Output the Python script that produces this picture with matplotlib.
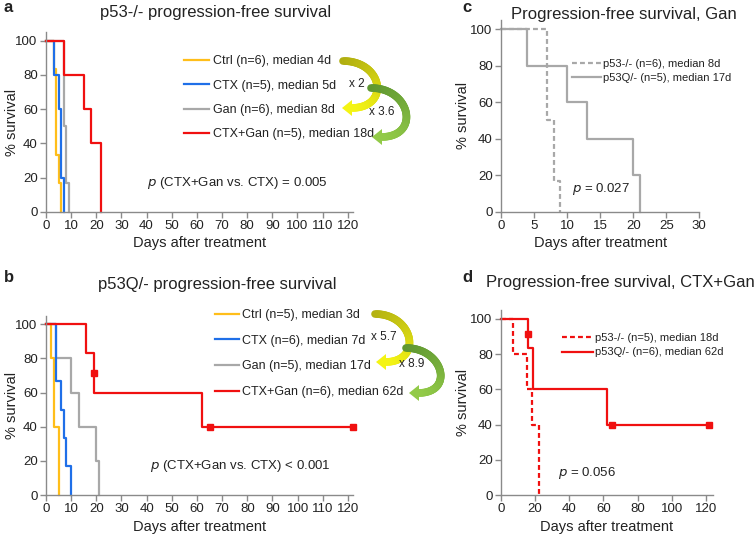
import numpy as np
import matplotlib
matplotlib.use('Agg')
from matplotlib import pyplot as plt
from matplotlib.patches import Polygon
from matplotlib.collections import LineCollection
from matplotlib.colors import to_rgb

plt.rcParams['font.family'] = ['Liberation Sans', 'DejaVu Sans']

W, H = 755, 537

# panel a: p53-/-  (time in days, % survival)
a_ctrl_t = [0, 3, 4, 5, 6]
a_ctrl_s = [100, 83.3, 33.3, 16.7, 0]
a_ctx_t = [0, 3, 5, 6, 7]
a_ctx_s = [100, 80, 60, 20, 0]
a_gan_t = [0, 7, 8, 9]
a_gan_s = [100, 50, 16.7, 0]
a_comb_t = [0, 7, 15, 18, 22]
a_comb_s = [100, 80, 60, 40, 0]

# panel b: p53Q/-
b_ctrl_t = [0, 2, 3, 5]
b_ctrl_s = [100, 80, 40, 0]
b_ctx_t = [0, 4, 6, 7, 8, 10]
b_ctx_s = [100, 66.7, 50, 33.3, 16.7, 0]
b_gan_t = [0, 4, 10, 13, 20, 21]
b_gan_s = [100, 80, 60, 40, 20, 0]
b_comb_t = [0, 16, 19, 62, 122]
b_comb_s = [100, 83.3, 60, 40, 40]
b_cens_t = [19, 65, 122]
b_cens_s = [71.4, 40, 40]

# panel d censor marks of p53Q/- CTX+Gan
d_cens_t = [16, 65, 122]
d_cens_s = [91.7, 40, 40]

labels_a = ['Ctrl (n=6), median 4d', 'CTX (n=5), median 5d',
            'Gan (n=6), median 8d', 'CTX+Gan (n=5), median 18d']
labels_b = ['Ctrl (n=5), median 3d', 'CTX (n=6), median 7d',
            'Gan (n=5), median 17d', 'CTX+Gan (n=6), median 62d']
labels_c = ['p53-/- (n=6), median 8d', 'p53Q/- (n=5), median 17d']
labels_d = ['p53-/- (n=5), median 18d', 'p53Q/- (n=6), median 62d']

ORANGE = '#FFBE1A'
BLUE = '#1F6FE8'
GRAY = '#A8A8A8'
RED = '#F01010'
TXT = '#222222'


def fx(px):
    return px / W


def fy(py):
    return 1 - py / H


def axes_px(fig, left, top, right, bottom):
    return fig.add_axes([fx(left), fy(bottom), (right - left) / W, (bottom - top) / H])


def style(ax, xmax, xstep, ylab_x, fig):
    ax.set_xlim(0, xmax)
    ax.set_ylim(0, 105)
    ax.set_xticks(np.arange(0, xmax + 0.01 - (xmax % xstep), xstep))
    ax.set_yticks(np.arange(0, 101, 20))
    for s in ['top', 'right']:
        ax.spines[s].set_visible(False)
    for s in ['left', 'bottom']:
        ax.spines[s].set_color('#8a8a8a')
        ax.spines[s].set_linewidth(1.0)
    ax.tick_params(direction='out', length=4, width=1, color='#8a8a8a',
                   labelcolor=TXT, labelsize=9.5, pad=2)
    ax.set_ylabel('% survival', fontsize=10.5, color=TXT, va='center')
    pos = ax.get_position()
    ax.yaxis.set_label_coords(fx(ylab_x), pos.y0 + pos.height / 2, transform=fig.transFigure)
    ax.set_xlabel('Days after treatment', fontsize=10.5, color=TXT, labelpad=3)


def km(ax, t, s, color, ls='-', label=None):
    ax.step(t, s, where='post', color=color, lw=1.6, ls=ls, label=label, clip_on=False)


def loop_arrow(fig, p1, p2, bulge, c_tail, c_head, hl=9, hw=8, band=5.5):
    # band leaves p1 to the right, loops round and comes back leftwards into p2
    d = bulge / 0.75
    e = (p2[0] + hl, p2[1])
    P = np.array([p1, (p1[0] + d, p1[1]), (e[0] + d, e[1]), e], dtype=float)
    t = np.linspace(0, 1, 60)[:, None]
    pts = ((1 - t) ** 3 * P[0] + 3 * (1 - t) ** 2 * t * P[1]
           + 3 * (1 - t) * t ** 2 * P[2] + t ** 3 * P[3])
    pts = np.column_stack([fx(pts[:, 0]), fy(pts[:, 1])])
    segs = np.stack([pts[:-1], pts[1:]], axis=1)
    c0, c1 = np.array(to_rgb(c_tail)), np.array(to_rgb(c_head))
    k = np.linspace(0, 1, len(segs))[:, None]
    cols = c0 * (1 - k) + c1 * k
    lc = LineCollection(segs, colors=cols, linewidths=band, capstyle='round',
                        transform=fig.transFigure)
    fig.add_artist(lc)
    head = Polygon([(fx(p2[0]), fy(p2[1])), (fx(e[0] + 1), fy(e[1] - hw)),
                    (fx(e[0] + 1), fy(e[1] + hw))], closed=True, color=c_head, lw=0,
                   transform=fig.transFigure)
    fig.add_artist(head)


def main():
    fig = plt.figure(figsize=(W / 100, H / 100), dpi=100)

    # ---- a
    ax = axes_px(fig, 46, 32.2, 352.7, 211.7)
    style(ax, 122, 10, 12, fig)
    km(ax, a_gan_t, a_gan_s, GRAY, label=labels_a[2])
    km(ax, a_ctrl_t, a_ctrl_s, ORANGE, label=labels_a[0])
    km(ax, a_ctx_t, a_ctx_s, BLUE, label=labels_a[1])
    km(ax, a_comb_t, a_comb_s, RED, label=labels_a[3])
    h, l = ax.get_legend_handles_labels()
    order = [1, 2, 0, 3]
    ax.legend([h[i] for i in order], [l[i] for i in order], loc='upper left',
              bbox_to_anchor=(fx(184), fy(55)), bbox_transform=fig.transFigure,
              frameon=False, fontsize=9, labelspacing=1.0, handlelength=2.0,
              handletextpad=0.3, borderpad=0, borderaxespad=0, labelcolor=TXT)
    ax.text(0.33, 0.16, r'$\it{p}$ (CTX+Gan vs. CTX) = 0.005', transform=ax.transAxes,
            fontsize=9.5, color=TXT, va='center')

    # ---- b
    ax = axes_px(fig, 46, 315.8, 353, 495)
    style(ax, 122, 10, 12, fig)
    km(ax, b_gan_t, b_gan_s, GRAY, label=labels_b[2])
    km(ax, b_ctrl_t, b_ctrl_s, ORANGE, label=labels_b[0])
    km(ax, b_ctx_t, b_ctx_s, BLUE, label=labels_b[1])
    km(ax, b_comb_t, b_comb_s, RED, label=labels_b[3])
    ax.plot(b_cens_t, b_cens_s, 's', color=RED, ms=4, clip_on=False)
    h, l = ax.get_legend_handles_labels()
    ax.legend([h[i] for i in order], [l[i] for i in order], loc='upper left',
              bbox_to_anchor=(fx(215), fy(309)), bbox_transform=fig.transFigure,
              frameon=False, fontsize=9, labelspacing=1.1, handlelength=1.9,
              handletextpad=0.3, borderpad=0, borderaxespad=0, labelcolor=TXT)
    ax.text(0.34, 0.16, r'$\it{p}$ (CTX+Gan vs. CTX) < 0.001', transform=ax.transAxes,
            fontsize=9.5, color=TXT, va='center')

    # ---- c
    ax = axes_px(fig, 501, 19.9, 699.3, 211.7)
    style(ax, 30, 5, 463, fig)
    km(ax, a_gan_t, a_gan_s, GRAY, ls=(0, (2.2, 1.4)), label=labels_c[0])
    km(ax, b_gan_t, b_gan_s, GRAY, label=labels_c[1])
    ax.legend(loc='upper left', bbox_to_anchor=(fx(572), fy(59)),
              bbox_transform=fig.transFigure, frameon=False, fontsize=8,
              labelspacing=0.35, handlelength=2.6, handletextpad=0.15,
              borderpad=0, borderaxespad=0, labelcolor=TXT)
    ax.text(0.36, 0.12, r'$\it{p}$ = 0.027', transform=ax.transAxes,
            fontsize=9.5, color=TXT, va='center')

    # ---- d
    ax = axes_px(fig, 501, 310.2, 712.8, 495)
    style(ax, 124, 20, 463, fig)
    km(ax, a_comb_t, a_comb_s, RED, ls=(0, (2.2, 1.4)), label=labels_d[0])
    km(ax, b_comb_t, b_comb_s, RED, label=labels_d[1])
    ax.plot(d_cens_t, d_cens_s, 's', color=RED, ms=4, clip_on=False)
    ax.legend(loc='upper left', bbox_to_anchor=(fx(562), fy(333)),
              bbox_transform=fig.transFigure, frameon=False, fontsize=8,
              labelspacing=0.4, handlelength=2.8, handletextpad=0.15,
              borderpad=0, borderaxespad=0, labelcolor=TXT)
    ax.text(0.27, 0.12, r'$\it{p}$ = 0.056', transform=ax.transAxes,
            fontsize=9.5, color=TXT, va='center')

    # titles
    for s, x, y in [('p53-/- progression-free survival', 216, 13),
                    ('p53Q/- progression-free survival', 217, 285),
                    ('Progression-free survival, Gan', 624, 14),
                    ('Progression-free survival, CTX+Gan', 620, 282)]:
        fig.text(fx(x), fy(y), s, fontsize=12, color=TXT, ha='center', va='center')

    # fold-change arrows
    loop_arrow(fig, (343, 61), (342, 108), 30, '#B0AE10', '#F4F414')
    loop_arrow(fig, (371, 88), (372, 137), 30, '#5E9630', '#92CA48')
    loop_arrow(fig, (375, 314), (376, 362), 29, '#B4B212', '#F4F414')
    loop_arrow(fig, (406, 348), (409, 393), 28, '#5E9630', '#92CA48')
    fig.text(fx(357), fy(84), 'x 2', fontsize=8.5, color=TXT, ha='center', va='center')
    fig.text(fx(382), fy(112), 'x 3.6', fontsize=8.5, color=TXT, ha='center', va='center')
    fig.text(fx(384), fy(337), 'x 5.7', fontsize=8.5, color=TXT, ha='center', va='center')
    fig.text(fx(412), fy(364), 'x 8.9', fontsize=8.5, color=TXT, ha='center', va='center')

    # panel letters
    for s, x, y in [('a', 4, 8), ('b', 4, 278), ('c', 462, 8), ('d', 462, 278)]:
        fig.text(fx(x), fy(y), s, fontsize=12, fontweight='bold', color=TXT, va='center')

    fig.savefig('out.png', dpi=100)


if __name__ == "__main__":
    main()
